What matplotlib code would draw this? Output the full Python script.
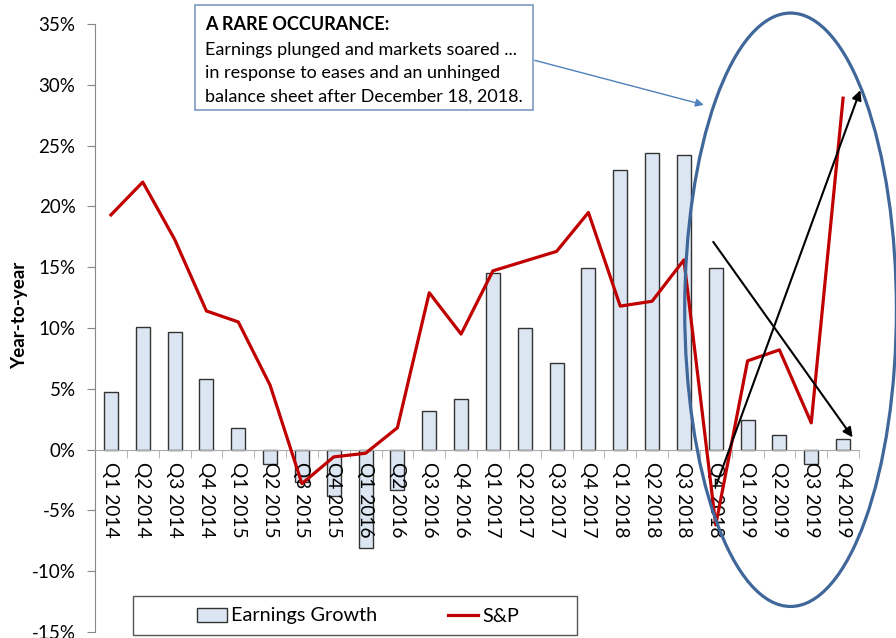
import numpy as np
import matplotlib
matplotlib.use("Agg")
import matplotlib.pyplot as plt
from matplotlib.patches import Ellipse, Rectangle

# ---------------------------------------------------------------------------
# Data (year-over-year, %)
# ---------------------------------------------------------------------------
quarters = ["Q1 2014", "Q2 2014", "Q3 2014", "Q4 2014",
            "Q1 2015", "Q2 2015", "Q3 2015", "Q4 2015",
            "Q1 2016", "Q2 2016", "Q3 2016", "Q4 2016",
            "Q1 2017", "Q2 2017", "Q3 2017", "Q4 2017",
            "Q1 2018", "Q2 2018", "Q3 2018", "Q4 2018",
            "Q1 2019", "Q2 2019", "Q3 2019", "Q4 2019"]

earnings_growth = [4.7, 10.1, 9.7, 5.8,
                   1.8, -1.2, -2.7, -3.8,
                   -8.1, -3.3, 3.2, 4.2,
                   14.5, 10.0, 7.1, 14.9,
                   23.0, 24.4, 24.2, 14.9,
                   2.4, 1.2, -1.2, 0.9]

sp500 = [19.3, 22.0, 17.3, 11.4,
         10.5, 5.3, -2.8, -0.6,
         -0.3, 1.8, 12.9, 9.5,
         14.7, 15.5, 16.3, 19.5,
         11.8, 12.2, 15.6, -6.2,
         7.3, 8.2, 2.2, 28.9]

y_ticks = [-15, -10, -5, 0, 5, 10, 15, 20, 25, 30, 35]

plt.rcParams['font.family'] = ['Lato', 'DejaVu Sans']

W, H = 896, 638
fig = plt.figure(figsize=(W / 100, H / 100), dpi=100)
ax = fig.add_axes([95 / W, 6 / H, 764 / W, 608 / H])

x = np.arange(len(quarters))
bars = ax.bar(x, earnings_growth, width=0.44, color='#dce6f2',
              edgecolor='#333333', linewidth=1.0, zorder=1,
              label='Earnings Growth')
line, = ax.plot(x, sp500, color='#c00000', lw=2.3, zorder=3, label='S&P')

ax.set_xlim(-0.5, len(quarters) - 0.5)
ax.set_ylim(-15, 35)

# axes styling
for side in ('top', 'right'):
    ax.spines[side].set_visible(False)
ax.spines['left'].set_color('#888888')
ax.spines['bottom'].set_color('#aaaaaa')
ax.spines['bottom'].set_position(('data', 0))

ax.set_yticks(y_ticks)
ax.set_yticklabels([f"{v}%" for v in y_ticks], fontsize=13.5)
ax.tick_params(axis='y', length=6, color='#888888', pad=8)

ax.set_xticks(x)
ax.set_xticklabels(quarters, rotation=270, fontsize=13.8)
ax.tick_params(axis='x', which='major', length=0, pad=9)
ax.set_xticks(np.arange(-0.5, len(quarters)), minor=True)
ax.tick_params(axis='x', which='minor', length=6, color='#aaaaaa', direction='out')

ax.set_ylabel('Year-to-year', fontsize=13.5, fontweight='bold')
ax.yaxis.set_label_coords(-0.087, 0.52)

# ---------------------------------------------------------------------------
# Legend with its own frame
# ---------------------------------------------------------------------------
leg = ax.legend([bars, line], ['Earnings Growth', 'S&P'],
                loc='center', bbox_to_anchor=(358 / W, 1 - 616 / H),
                bbox_transform=fig.transFigure, ncol=2, frameon=False,
                fontsize=14.3, handlelength=1.5, handleheight=0.7,
                handletextpad=0.2, columnspacing=3.6)
fig.patches.append(Rectangle((133 / W, 1 - 635 / H), 444 / W, 39 / H,
                             transform=fig.transFigure, facecolor='none',
                             edgecolor='#555555', lw=1.0))

# ---------------------------------------------------------------------------
# Annotation box
# ---------------------------------------------------------------------------
fig.patches.append(Rectangle((195 / W, 1 - 110 / H), 338 / W, 105 / H,
                             transform=fig.transFigure, facecolor='white',
                             edgecolor='#7d9ac4', lw=1.2, zorder=5))
fig.text(205 / W, 1 - 24 / H, "A RARE OCCURANCE:", fontsize=13,
         fontweight='bold', va='center', ha='left', zorder=6)
fig.text(205 / W, 1 - 73 / H,
         "Earnings plunged and markets soared ...\n"
         "in response to eases and an unhinged\n"
         "balance sheet after December 18, 2018.",
         fontsize=13, va='center', ha='left', linespacing=1.55, zorder=6)

# ---------------------------------------------------------------------------
# Ellipse and arrows (data coordinates)
# ---------------------------------------------------------------------------
ax.add_patch(Ellipse((21.35, 11.5), 6.65, 48.8, facecolor='none',
                     edgecolor='#40679a', lw=2.3, clip_on=False, zorder=4))

ax.annotate('', xy=(18.71, 28.29), xytext=(13.23, 32.07),
            arrowprops=dict(arrowstyle='-|>', color='#4f81bd', lw=1.0,
                            mutation_scale=12),
            annotation_clip=False, zorder=5)
ax.annotate('', xy=(23.35, 0.82), xytext=(18.87, 17.27),
            arrowprops=dict(arrowstyle='-|>', color='black', lw=1.5,
                            mutation_scale=14),
            annotation_clip=False, zorder=5)
ax.annotate('', xy=(23.57, 29.77), xytext=(19.0, -3.04),
            arrowprops=dict(arrowstyle='-|>', color='black', lw=1.5,
                            mutation_scale=14),
            annotation_clip=False, zorder=5)

fig.savefig('out.png', dpi=100)
